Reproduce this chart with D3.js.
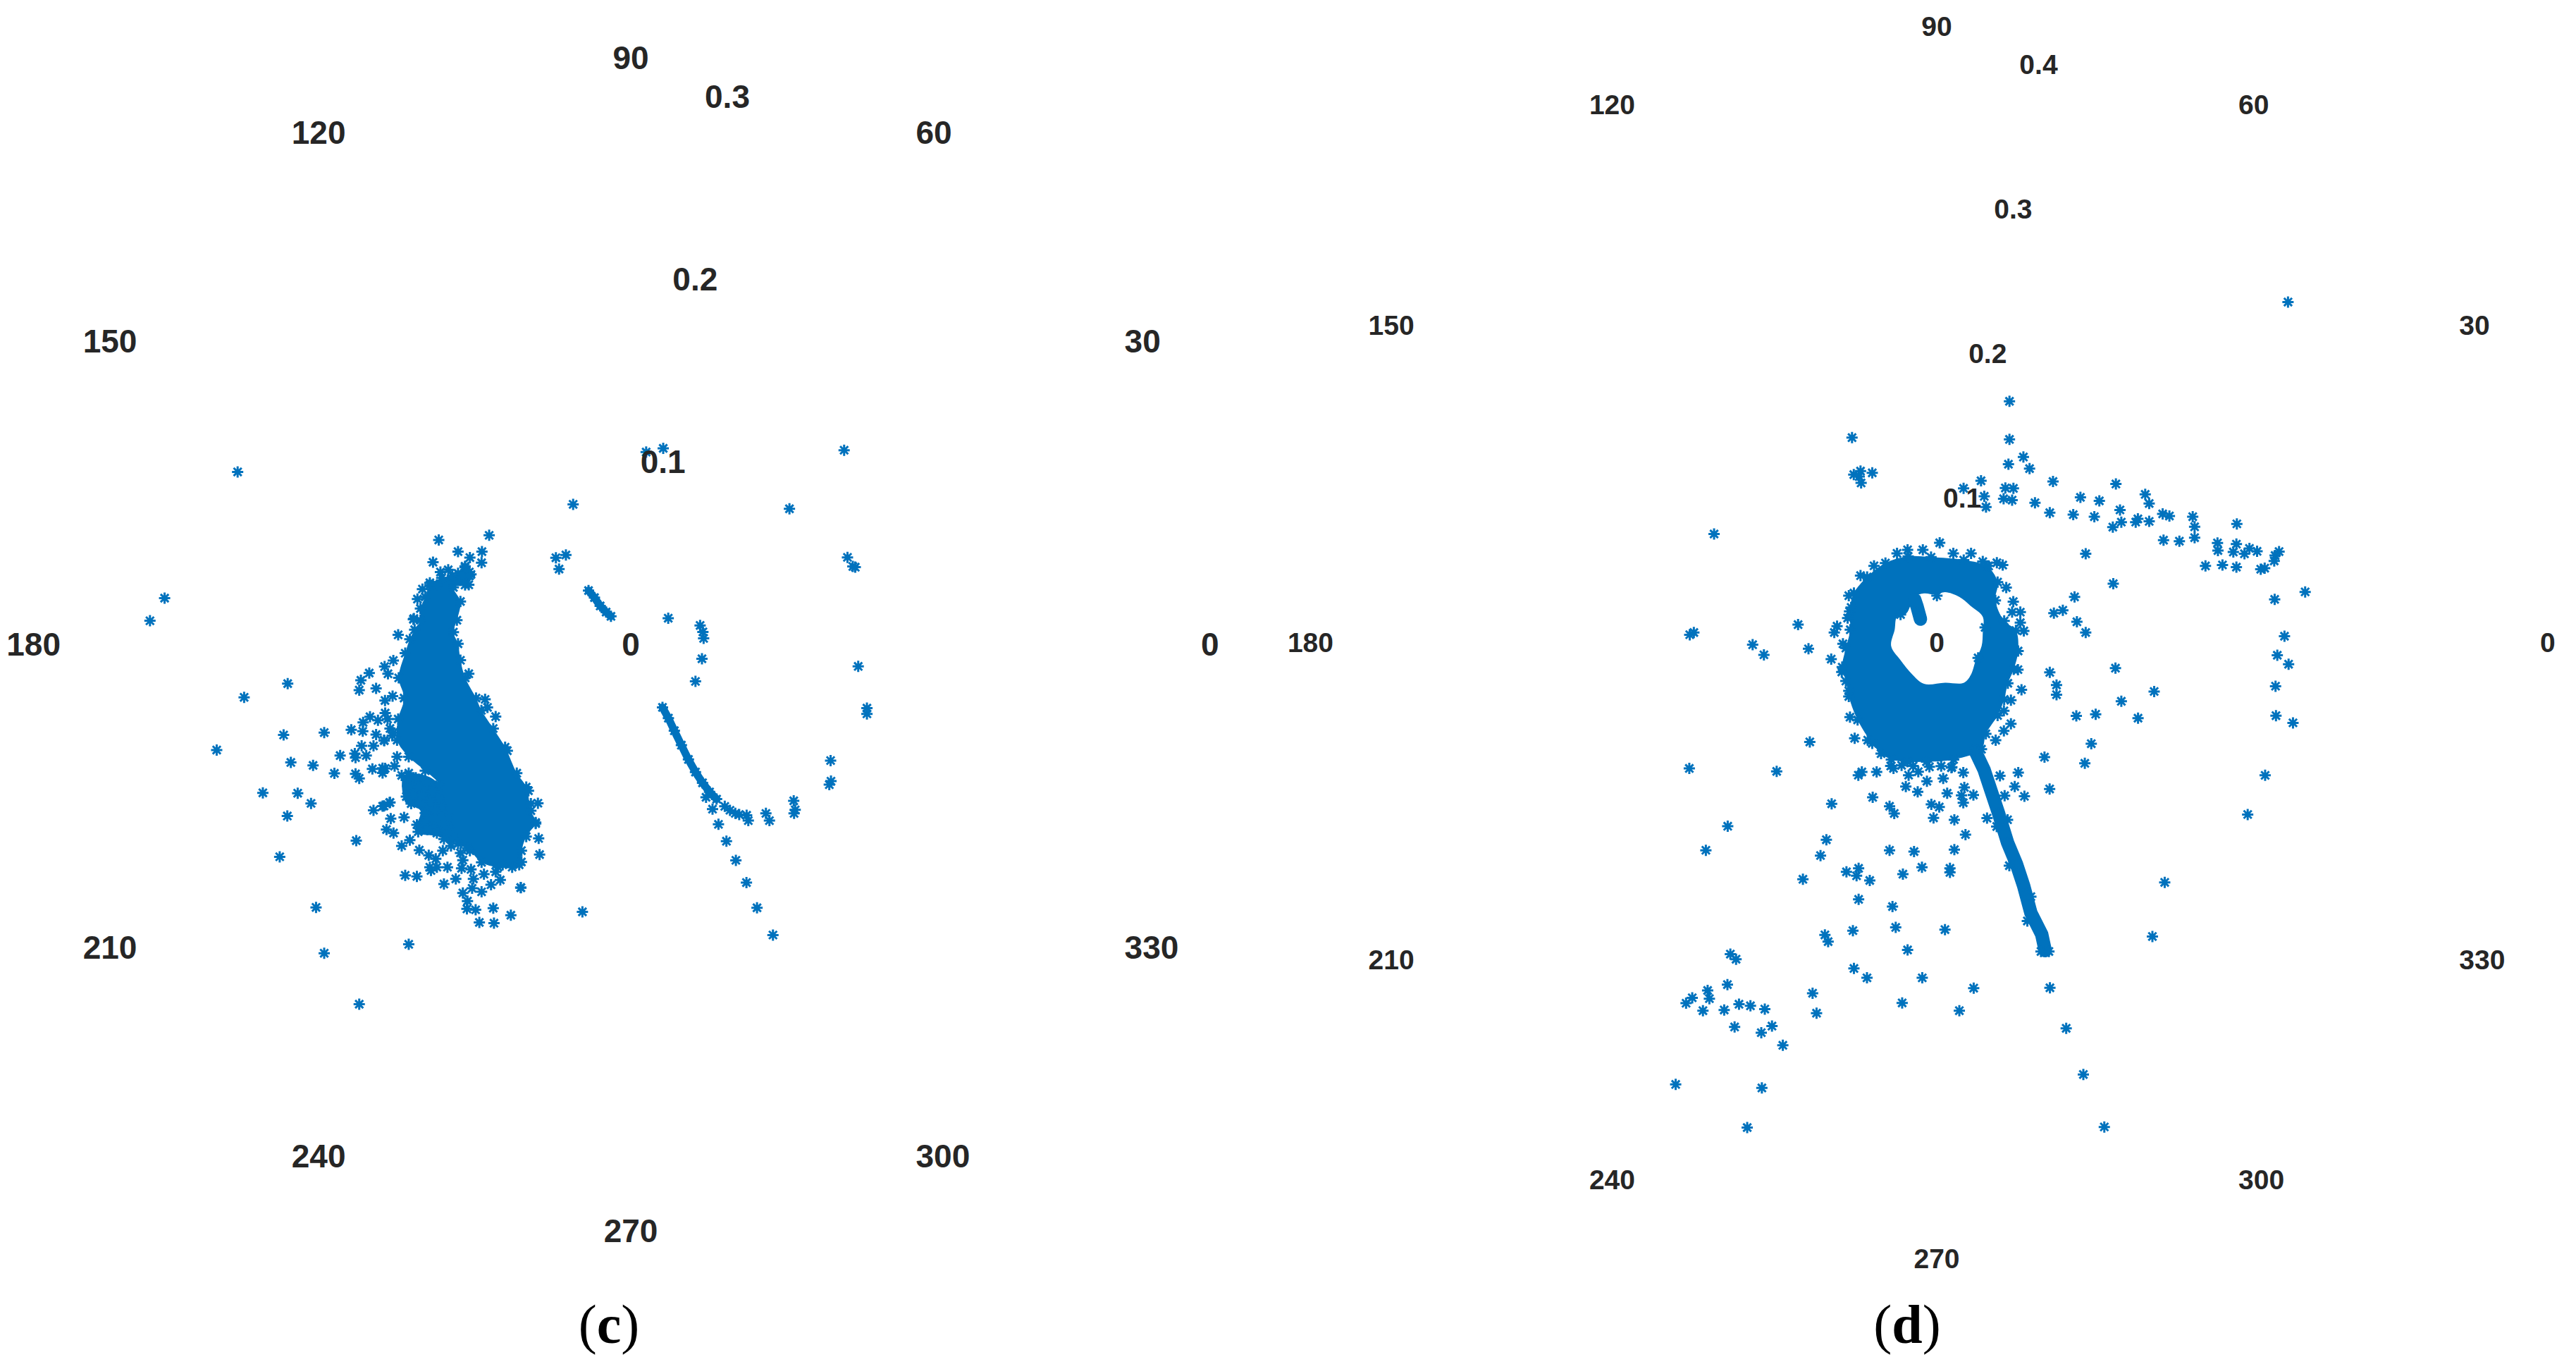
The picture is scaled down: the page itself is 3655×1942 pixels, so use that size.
<!DOCTYPE html>
<html>
<head>
<meta charset="utf-8">
<script src="https://cdn.jsdelivr.net/npm/d3@7"></script>
<style>
html,body{margin:0;padding:0;background:#fff;}
svg{display:block;}
text{font-family:"Liberation Sans",Arial,sans-serif;font-weight:bold;fill:#262626;}
.caption{font-family:"Liberation Serif",serif;font-weight:normal;fill:#000;}
</style>
</head>
<body>
<svg id="chart" width="3655" height="1942"></svg>
<script>
// angle ticks and radius ticks of the two polar plots
const angleTicks = [0,30,60,90,120,150,180,210,240,270,300,330];
const cRadiusTicks = [0,0.1,0.2,0.3];
const dRadiusTicks = [0,0.1,0.2,0.3,0.4];

// all points below are [re, im] in thousandths
// panel c: edge of the solid cloud
const cCloudEdge = [[-110.9,25.6],[-108.4,32],[-102,35.8],[-96.3,37],[-93.2,38.3],[-89.4,42.1],[-86.2,37.7],[-89.4,32],[-95.7,30.7],[-91.9,23.1],[-93.8,13],[-95.7,6.6],[-93.2,0.3],[-91.9,-8.6],[-89.3,-18.1],[-83.5,-29],[-80.6,-35.6],[-74.2,-45.4],[-67.8,-55.5],[-61.5,-69.5],[-56.4,-77],[-53.9,-89.7],[-51.3,-96.1],[-56.4,-103.7],[-59,-111.3],[-60.2,-118.9],[-71.6,-120.2],[-80.5,-117.6],[-86.8,-111.3],[-93.2,-107.5],[-98.2,-101.1],[-98.2,-93.5],[-102,-87.2],[-103.3,-75.8],[-110.9,-68.2],[-119.8,-60.6],[-126.1,-51.7],[-125.5,-40.3],[-122.3,-29],[-125.2,-18.1],[-121.7,-4.8],[-119.2,2.8],[-116.6,7.9],[-113.5,13],[-113.5,19.3]];
// panel c: the nearly solid patch below the cloud's left side
const cLacePatch = [[-122.3,-70.7],[-110.9,-70.7],[-103.3,-75.8],[-98.2,-93.5],[-93.2,-103.7],[-97,-107.5],[-103.3,-103.7],[-116,-101.1],[-113.5,-89.7],[-121.1,-85.9],[-123,-80.9]];
// panel c: loose stars in the lower left of the cloud
const cLace = [[-126.1,-60.6],[-127.4,-65.7],[-132.5,-66.9],[-123.6,-70.7],[-119.8,-69.5],[-116,-72],[-120.4,-76.4],[-114.7,-77],[-109.7,-74.5],[-121.1,-82.1],[-117.3,-80.9],[-112.8,-81.5],[-107.1,-79.6],[-118.5,-85.9],[-113.5,-85.9],[-108.4,-84.7],[-103.3,-83.4],[-110.9,-91],[-105.8,-89.7],[-115.4,-97.3],[-110.9,-96.1],[-106.5,-98.6],[-114.7,-101.1],[-109.7,-99.9],[-104.6,-101.8],[-100.8,-97.3],[-100.8,-105],[-97,-108.7],[-101.4,-111.3],[-91.9,-112.5],[-88.1,-110],[-114.1,-111],[-109,-113.8],[-105.2,-115.7],[-108.4,-120.2],[-104.6,-120.2],[-107.8,-122],[-98.9,-120.2],[-90.6,-116.4],[-91.3,-120.8],[-86.2,-121.4],[-94.4,-126.5],[-84.9,-126.5],[-79.2,-124],[-75.4,-129.7],[-70.4,-127.1],[-72.9,-122.7],[-80.5,-133.5],[-85.6,-131.6],[-90.6,-134.1],[-88.1,-138.5],[-88.4,-142.7],[-83.7,-143.2],[-74.2,-142.3],[-64.7,-146.1],[-59.3,-131.3],[-100.8,-129.3],[-115.4,-125.2],[-121.7,-124.6],[-49.2,-113.4],[-49.7,-104.7],[-50.1,-85.7],[-53.9,-85.9],[-51.3,-96.7],[-59,-117.4],[-64,-120.2],[-69.1,-118.9],[-119.2,-105.6],[-123.6,-108.7],[-128,-101.8],[-131.8,-99.9],[-122.3,-93.3],[-129.5,-94],[-129.9,-85.3],[-133.1,-87.2],[-131.2,-40.3],[-132.5,-37.1],[-133.1,-51.7],[-128.7,-49.2],[-129.9,-45.4],[-55.2,-79],[-66.6,-57.4],[-72.9,-39],[-77.3,-34]];
// panel c: scattered stars
const cScatter = [[-212.1,93],[-251.5,24.9],[-259.4,12.7],[-185.1,-21.2],[-208.6,-28.6],[-223.4,-57],[-187.3,-48.9],[-165.4,-47.6],[-183.4,-63.7],[-171.4,-65.3],[-159.9,-69.6],[-198.5,-80.1],[-179.7,-80.3],[-172.5,-85.8],[-185.3,-92.6],[-189.4,-114.6],[-169.8,-141.9],[-165.4,-166.6],[-146.5,-194.1],[-119.8,-161.8],[-148.1,-105.9],[-26.1,-144.3],[-59.4,-131.2],[-81.7,-150],[-73.8,-150.4],[-138.8,-89.5],[-133.9,-87.3],[-130.1,-85.4],[-146.5,-72.3],[-148.5,-69.9],[-139.4,-67.2],[-133.9,-66.8],[-133.9,-69.4],[-156.8,-60],[-148.9,-58.9],[-148.5,-61.1],[-142.7,-60],[-145.2,-54.8],[-138.8,-54.8],[-150.8,-46.1],[-144.6,-46.9],[-144.4,-42.1],[-140.7,-39.1],[-136.4,-41],[-137.4,-48.7],[-133,-52],[-128.1,-47.6],[-132.6,-30.3],[-128.5,-27.9],[-137.4,-23.8],[-146.5,-24.7],[-145.6,-19.4],[-141.1,-15.5],[-132.8,-12],[-131,-15.9],[-128.1,-8.7],[-125.5,5.1],[-117.3,13.5],[-117,13.9],[-115.1,24.4],[-112.4,29.8],[-108.4,33.2],[-104.6,32],[-102.7,39],[-98.5,40.2],[-106.7,44.3],[-103.6,56.3],[-93.2,50],[-86.8,46.8],[-80.3,50],[-80.5,44],[-76.4,58.8],[-91.3,37.7],[-89.4,41.5],[-87.1,39],[-87,36.9],[-87.4,32.1],[-31.1,75.5],[-40.4,46.7],[-35,48.2],[-38.7,40.6],[-87.4,-15.9],[-78.6,-29.7],
[8.3,103.7],[17.5,105.7],[115.1,104.7],[85.6,73.1],[116.9,46.9],[119.8,42],[121.1,41.6],[20.2,14.1],[37.4,10.2],[38.9,6.7],[39.3,3.2],[38.4,-7.8],[34.9,-20],[122.7,-11.9],[127.4,-34.4],[127.4,-37.5],[107.8,-62.7],[107.1,-75.7],[108,-73.8],[87.9,-84.4],[88.7,-89.3],[88.1,-91.2],[72.9,-91.2],[74.8,-95.1],[62.5,-92.2],[63.4,-95.1],[40.6,-82.5],[44.1,-88.9],[47.3,-97.1],[51.6,-106.2],[56.7,-116.5],[62.4,-128.5],[68.1,-142.1],[76.7,-156.8]];
// panel c: the two thin streaks
const cShortStreak = [[-22.8,29],[-19.6,25.2],[-16.5,20.7],[-13.3,17.4],[-10.7,15.1]];
const cLongStreak = [[17.1,-34],[20.3,-39.8],[23.5,-46.6],[27.3,-54.4],[31.1,-62.1],[34.9,-68.9],[38.7,-74.7],[42.5,-79.6],[46.3,-83.5]];
const cStreakTail = [[50.7,-87.4],[53.5,-89.5],[56.4,-91.2],[58.5,-91.8]];

// panel d: the ring, outer and inner edge
const dRingOuter = [[-3.9,58],[18.4,56],[34,52],[41.5,41],[40,28.5],[46,14.5],[54,8],[55.5,-6],[52.5,-18.5],[48.5,-28],[46,-39],[41.5,-50],[33.5,-62.5],[30.5,-73],[11.5,-80],[-7,-81.5],[-20,-81.5],[-31,-80],[-38,-76],[-44,-69],[-54,-53],[-60,-37],[-62,-26.5],[-64.5,-17],[-62,-4],[-59,8.5],[-59.5,21],[-56.5,33.5],[-47.5,44.5],[-35,54],[-19.5,58.5]];
const dRingInner = [[-15.1,30.9],[-8.7,33.3],[-0.7,32.5],[5.7,34.1],[15.4,30.9],[23.4,24.5],[31.4,17.3],[31.4,6.9],[30.6,-2.7],[26.6,-12.3],[23.4,-22],[18.6,-27.6],[5.7,-27.6],[-8.7,-28.4],[-16.7,-22],[-24.7,-12.3],[-31.1,-2.7],[-28.7,8.5],[-27.1,17.3],[-20.7,19.7]];
const dHoleBumps = [[0.1,31.7],[-24.7,18.9],[33,10.1],[28.2,-10.7],[-13,21],[-12,17]];
const dRingBumps = [[2,67.8],[-19.9,63],[-27.1,60.6],[-42.8,52.1],[-52,45.4],[-60,31.7],[-58.4,23.7],[-60.8,16.5],[-68,10.9],[-69.9,6.6],[-64,-1.1],[-72,-11.5],[-64.8,-20.3],[-60,-33.2],[-59.2,-51.1],[-56,-65.5],[-47.1,-66.8],[-9.5,63],[11.3,60.6],[23.4,60.6],[31.4,55],[41,54.2],[45,52.6],[47.4,37.3],[52.2,27.7],[57,20.5],[51.4,20.5],[59.4,7.7],[57,13.3],[55.4,-18.7],[57.8,-32.4],[50.6,-39.6],[45.8,-46.8],[50.6,-55.6],[45.8,-60.4],[40.2,-66.8],[-31.4,-84.4],[10,-85.6],[-16.1,-84.4],[-5,-85],[3,-84.5],[-24,-84]];
// panel d: scattered stars
const dScatter = [[239.6,232],[49.6,164.3],[49.6,138.3],[59.1,126.3],[63.3,118.4],[48.9,121.4],[-57.8,139.5],[-151.9,73.8],[-56.6,114.3],[-52,116.7],[-52.9,113],[-51.6,108.6],[-44,115.5],[18.3,104.9],[30.2,110.1],[32.4,99.5],[33.6,92.2],[46.8,105.2],[52.3,104.9],[45.6,97.8],[51.4,96.9],[79.3,109.6],[67,95.1],[77.1,88.3],[98,98.8],[93.1,87],[110.9,96.4],[107.5,85.6],[122.2,107.9],[125,90.2],[120.1,78.5],[125.9,81.9],[135.7,81.9],[137.2,84.1],[144.9,82.4],[142.2,100.8],[144.9,94.6],[154.1,87.5],[158.7,86.1],[154.7,69.6],[165.5,68.9],[174.6,85.6],[175.9,78.7],[175.9,71.3],[204.7,80.7],[191.5,67.7],[191.8,62.5],[204.4,66.9],[202.3,61.5],[213.3,64],[209.9,60.3],[218.5,62],[183.3,52],[194.9,52.7],[204.4,51.2],[221,49.8],[223.7,50.5],[230.2,55.4],[230.8,59.1],[233.5,61.8],[251.3,34.3],[230.5,29.2],[237.2,4.1],[232.3,-8.9],[240,-15],[231.1,-30],[231.4,-50.1],[243,-55],[224,-90.8],[212.1,-117.5],[101.6,60.3],[120.4,39.9],[94,30.9],[79.9,19.8],[86,21.8],[95.6,13.9],[101.6,6.6],[121.9,-17.7],[77.1,-20.6],[81.7,-29.2],[81.7,-35.8],[148.3,-33.6],[125.9,-40.3],[137.3,-51.8],[95.2,-50.3],[108.4,-49.1],[35.4,52],
[-168.5,5.1],[-165.7,6.6],[-94.6,12],[-125.6,-1.7],[-117.9,-8.6],[-87.5,-4.5],[-86.6,-68],
[-168.8,-86.1],[-109.2,-88.1],[-53.5,-90.7],[-51.1,-88.5],[-41,-88.5],[-29.5,-86.1],[-19.2,-90.7],[-21.1,-98.4],[-12.6,-88.3],[-6.7,-94.8],[-13,-102.1],[4.4,-92.9],[10.3,-85.2],[18.1,-88.9],[18.8,-99],[7.1,-103],[16.9,-104.5],[25,-104.2],[18.1,-109.5],[-43.7,-105.8],[-71.7,-110.2],[-32.2,-111.9],[-29,-116.8],[-3.7,-110.6],[1.7,-112.4],[-2.2,-119.8],[12,-121.1],[34.3,-120],[43.1,-91.1],[55.6,-88.9],[53.2,-98.4],[46.3,-104.7],[59.8,-105.1],[77,-100.1],[73.5,-78.4],[101,-82.6],[105.4,-69.2],[-142.6,-125.5],[-157.5,-141.9],[-75.3,-134.7],[-79.3,-145.5],[-32.2,-141.9],[-15.5,-142.8],[12,-141.5],[19.6,-131.2],[-91.3,-161.7],[-61.6,-156.6],[-53.3,-154.2],[-54.7,-159.3],[-45.7,-162.5],[-23.1,-158.2],[-10.1,-153.5],[9,-154.2],[9,-157],[-53.3,-175.4],[-30.2,-180.3],[-57.2,-196.7],[-76.3,-199.6],[-74.1,-204.2],[-28,-194.5],[5.6,-196],[-19.9,-209.9],[-56.5,-222.5],[-47.6,-228.9],[-9.9,-228.9],[25.2,-235.9],[77.2,-235.7],[-23.6,-246],[15.4,-251.3],[88.3,-263.3],[100,-294.8],[114.3,-330.6],[155.5,-163.8],[147.1,-200.7],[-140.8,-212.7],[-136.9,-216.2],[-142.8,-233.5],[-156.3,-237.5],[-155.1,-243.1],[-166.8,-242.5],[-171,-246.2],[-159.5,-251.3],[-145,-250.8],[-134.9,-246.9],[-127.1,-248],[-117.3,-250.2],[-84.7,-239.4],[-82,-253],[-112.4,-261.8],[-119.7,-266.3],[-137.9,-262.4],[-105,-274.9],[-178.1,-301.6],[-119.3,-304],[-129.3,-331]];
// panel d: the streak leaving the ring, and the stub inside the hole
const dStreak = [[26.2,-74.2],[32.3,-87],[37.2,-101.8],[42.1,-116.5],[48.3,-136.7],[54.4,-151.4],[59.3,-166.2],[64.2,-184.6],[71.6,-199.3],[74,-210.3]];
const dStreakExtra = [[71.1,-210.9],[76.5,-210.9],[61.8,-190.1],[49.5,-152.4],[64.2,-173.5],[48.3,-121.1],[40.9,-125.7]];
const dStub = [[-15,29],[-13.5,24.5],[-11.1,15.7]];

const starColor = '#0072BD';
const svg = d3.select('#chart');
// matlab style asterisk: four crossed lines
const asterisk = {
  draw(ctx, size) {
    const r = Math.sqrt(size), k = r*Math.SQRT1_2;
    ctx.moveTo(-r,0); ctx.lineTo(r,0);
    ctx.moveTo(0,-r); ctx.lineTo(0,r);
    ctx.moveTo(-k,-k); ctx.lineTo(k,k);
    ctx.moveTo(-k,k); ctx.lineTo(k,-k);
  }
};
const star = d3.symbol().type(asterisk).size(64);

function drawPanel(o) {
  const g = svg.append('g').attr('transform', `translate(${o.cx},${o.cy})`);
  const r = d3.scaleLinear().domain([0,0.1]).range([0,o.unit]);
  const px = p => r(p[0]/1000);
  const py = p => -r(p[1]/1000);
  const line = d3.line().x(px).y(py);
  const closed = d3.line().x(px).y(py).curve(d3.curveCatmullRomClosed);

  // solid masses
  g.selectAll('path.mass').data(o.masses).join('path')
    .attr('class','mass')
    .attr('fill-rule','evenodd')
    .attr('fill',starColor)
    .attr('d', m => m.map(closed).join(''));
  // streaks
  g.selectAll('path.streak').data(o.streaks).join('path')
    .attr('class','streak')
    .attr('fill','none')
    .attr('stroke',starColor)
    .attr('stroke-linecap','round')
    .attr('stroke-width',o.streakWidth)
    .attr('d',line);
  // stars
  g.selectAll('path.star').data(o.stars).join('path')
    .attr('class','star')
    .attr('d',star)
    .attr('fill','none')
    .attr('stroke',starColor)
    .attr('stroke-width',3)
    .attr('transform', p => `translate(${px(p)},${py(p)})`);

  // angle labels
  const sin = a => Math.round(Math.sin(a*Math.PI/180)*100)/100;
  g.selectAll('text.angle').data(angleTicks).join('text')
    .attr('class','angle')
    .attr('font-size',o.fontAngle)
    .attr('dominant-baseline','central')
    .attr('text-anchor', a => (a===90||a===270) ? 'middle' : (a<90||a>270) ? 'start' : 'end')
    .attr('x', a => o.labelR*Math.cos(a*Math.PI/180))
    .attr('y', a => -o.labelRy*sin(a) - Math.sign(sin(a))*(o.labelShift + (Math.abs(sin(a))===0.5 ? 4 : 0)))
    .text(d => d);
  // radius labels sit along the 80 degree spoke
  g.selectAll('text.radius').data(o.radiusTicks).join('text')
    .attr('class','radius')
    .attr('font-size',o.fontRadius)
    .attr('dominant-baseline','central')
    .attr('text-anchor','middle')
    .attr('x', v => r(v)*Math.cos(80*Math.PI/180))
    .attr('y', v => -r(v)*Math.sin(80*Math.PI/180))
    .text(d => d);
  // caption
  const cap = svg.append('text').attr('class','caption')
    .attr('x',o.capX).attr('y',1905).attr('font-size',78).attr('text-anchor','middle');
  cap.append('tspan').text('(');
  cap.append('tspan').style('font-weight','bold').text(o.letter);
  cap.append('tspan').text(')');
}

drawPanel({
  cx:895, cy:914, unit:263, labelR:809, labelRy:812, labelShift:20, fontAngle:46, fontRadius:46,
  radiusTicks:cRadiusTicks, capX:864, letter:'c', streakWidth:11,
  masses:[[cCloudEdge],[cLacePatch]],
  streaks:[cShortStreak,cLongStreak],
  stars:[...cCloudEdge,...cLace,...cScatter,...cShortStreak,...cLongStreak,...cStreakTail]
});
drawPanel({
  cx:2748, cy:911, unit:208, labelR:856, labelRy:856, labelShift:18, fontAngle:39, fontRadius:39,
  radiusTicks:dRadiusTicks, capX:2706, letter:'d', streakWidth:19,
  masses:[[dRingOuter,dRingInner]],
  streaks:[dStreak,dStub],
  stars:[...dRingOuter,...dRingBumps,...dHoleBumps,...dScatter,...dStreak,...dStreakExtra]
});
</script>
</body>
</html>
